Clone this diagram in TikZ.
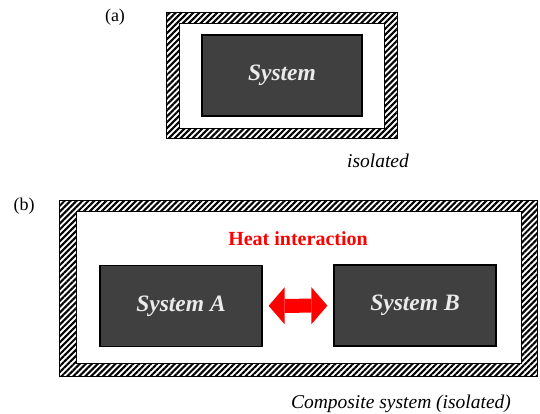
\documentclass[tikz,border=0pt]{standalone}
\usepackage{fontspec}
\setmainfont{Liberation Serif}
\usetikzlibrary{patterns.meta,arrows.meta}

\begin{document}
\begin{tikzpicture}[x=1pt,y=-1pt,
    wall/.style={pattern={Lines[angle=45,distance=4.2pt,line width=2.1pt]},even odd rule},
    sysbox/.style={draw=black,line width=1.2pt,fill=black!75,text=black!8,
      font=\fontsize{23.5}{25}\selectfont\bfseries\itshape,
      minimum width=162pt,minimum height=81pt,inner sep=0pt},
    heat/.style={red,line width=14pt,
      {Triangle[length=16pt,width=37pt,line width=0pt]}-{Triangle[length=16pt,width=37pt,line width=0pt]},
      shorten <=6pt,shorten >=6pt},
    lbl/.style={font=\fontsize{19.5}{21}\selectfont\itshape}]
  \useasboundingbox (0,0) rectangle (540,414);

  % (a) one isolated system
  \fill[wall] (166.5,13) rectangle (397,139) (179,23.5) rectangle (384,128.5);
  \draw[line width=1pt] (166.5,13) rectangle (397,139);
  \draw[line width=1pt] (179,23.5) rectangle (384,128.5);
  \node[sysbox,minimum width=160pt] (sys) at (282,75.5) {System};
  \node[font=\fontsize{18}{20}\selectfont] (laba) at (115,17) {(a)};
  \node[lbl] (isoa) at (378,161) {isolated};

  % (b) two systems inside one wall
  \fill[wall] (59.5,200) rectangle (537.5,376.5) (76,211) rectangle (521.5,363);
  \draw[line width=1pt] (59.5,200) rectangle (537.5,376.5);
  \draw[line width=1pt] (76,211) rectangle (521.5,363);
  \node[sysbox] (sysA) at (181,306) {System A};
  \node[sysbox] (sysB) at (415,305.5) {System B};
  \draw[heat] (sysA) -- (sysB);
  \node[red,font=\fontsize{20}{22}\selectfont\bfseries] (heattxt) at (298,239) {Heat interaction};
  \node[font=\fontsize{18}{20}\selectfont] (labb) at (24,206) {(b)};
  \node[lbl] (isob) at (401,404) {Composite system (isolated)};
\end{tikzpicture}
\end{document}
